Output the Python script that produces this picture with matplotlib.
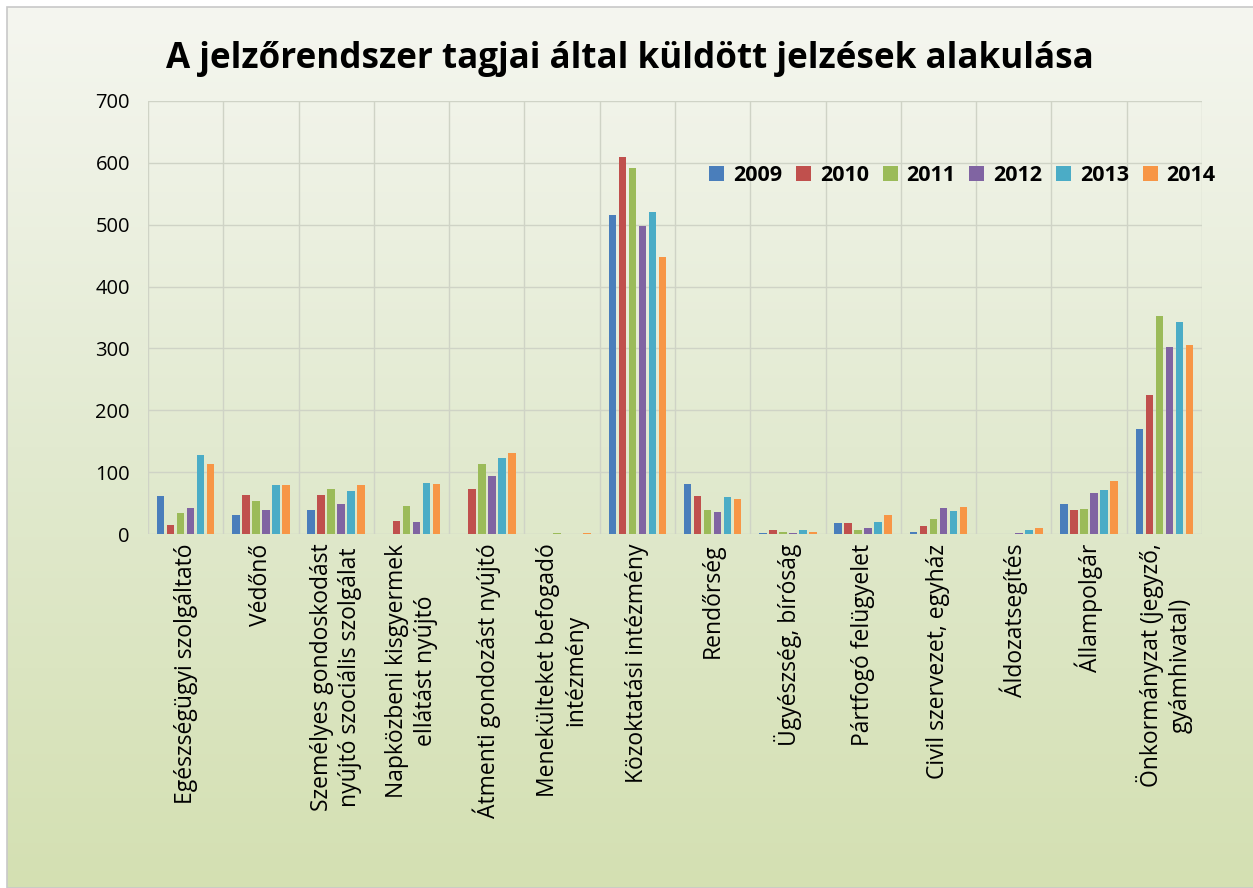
import numpy as np
import matplotlib
matplotlib.use('Agg')
import matplotlib.pyplot as plt
from matplotlib.colors import LinearSegmentedColormap
from matplotlib.patches import Rectangle

plt.rcParams['font.family'] = ['Open Sans', 'DejaVu Sans']

title = 'A jelzőrendszer tagjai által küldött jelzések alakulása'
categories = [
    'Egészségügyi szolgáltató',
    'Védőnő',
    'Személyes gondoskodást\nnyújtó szociális szolgálat',
    'Napközbeni kisgyermek\nellátást nyújtó',
    'Átmenti gondozást nyújtó',
    'Menekülteket befogadó\nintézmény',
    'Közoktatási intézmény',
    'Rendőrség',
    'Ügyészség, bíróság',
    'Pártfogó felügyelet',
    'Civil szervezet, egyház',
    'Áldozatsegítés',
    'Állampolgár',
    'Önkormányzat (jegyző,\ngyámhivatal)',
]
years = ['2009', '2010', '2011', '2012', '2013', '2014']

v2009 = [61, 30, 38, 0, 0, 0, 515, 81, 2, 17, 4, 0, 48, 170]
v2010 = [15, 63, 63, 21, 73, 0, 610, 62, 6, 17, 13, 0, 38, 224]
v2011 = [34, 54, 73, 46, 113, 2, 591, 38, 4, 6, 25, 0, 41, 353]
v2012 = [42, 38, 48, 19, 94, 0, 498, 36, 2, 9, 42, 2, 67, 303]
v2013 = [127, 79, 69, 83, 123, 0, 520, 60, 6, 19, 37, 6, 71, 342]
v2014 = [113, 79, 79, 81, 131, 2, 448, 56, 4, 30, 44, 10, 86, 306]
series = [v2009, v2010, v2011, v2012, v2013, v2014]

colors = ['#4a7ebb', '#c0504d', '#9bbb59', '#8064a2', '#4bacc6', '#f79646']

W, H = 1253, 888
fig = plt.figure(figsize=(W / 100, H / 100), dpi=100, facecolor='white')

# gradient background of the chart area
bg = fig.add_axes([7 / W, 0, 1 - 7 / W, 1 - 7 / H])
cmap = LinearSegmentedColormap.from_list('bg', ['#d4e0b2', '#e2ead0', '#f5f6f0'])
grad = np.linspace(0, 1, 256).reshape(-1, 1)
bg.imshow(grad, aspect='auto', cmap=cmap, origin='lower', extent=[0, 1, 0, 1])
bg.set_axis_off()
fig.patches.append(Rectangle((7 / W, 0), 1, 1 - 7 / H, transform=fig.transFigure,
                             fill=False, edgecolor='#c8c8c8', linewidth=1.2, zorder=5))

ax = fig.add_axes([148 / W, (H - 534) / H, (1202 - 148) / W, (534 - 101) / H])
ax.set_facecolor('none')

x = np.arange(len(categories))
step = 0.133
width = 0.1
for i, (vals, col, yr) in enumerate(zip(series, colors, years)):
    ax.bar(x + (i - 2.5) * step, vals, width=width, color=col, label=yr, zorder=3)

ax.set_xlim(-0.5, len(categories) - 0.5)
ax.set_ylim(0, 700)
ax.set_yticks(np.arange(0, 701, 100))
ax.set_xticks(np.arange(-0.5, len(categories), 1), minor=False)
ax.set_xticklabels([])
ax.tick_params(axis='both', length=0)
ax.tick_params(axis='y', labelsize=14.5, pad=13)
ax.grid(True, color='#cfd3c6', linewidth=1, zorder=0)
for s in ax.spines.values():
    s.set_visible(False)

for xi, lab in zip(x, categories):
    ax.annotate(lab, xy=(xi, 0), xycoords=('data', 'axes fraction'),
                xytext=(0, -7), textcoords='offset points',
                rotation=90, ha='center', va='top', multialignment='center',
                fontsize=16.5, linespacing=1.25)

leg = ax.legend(ncol=6, loc='upper right', bbox_to_anchor=(1.013, 0.852),
                frameon=False, borderaxespad=0, borderpad=0,
                handlelength=0.7, handleheight=0.7,
                handletextpad=0.4, columnspacing=0.65,
                prop={'weight': 'bold', 'size': 15.5})

fig.text(0.503, 0.933, title, ha='center', va='center',
         fontsize=25.2, fontweight='bold')

fig.savefig('out.png', dpi=100)
